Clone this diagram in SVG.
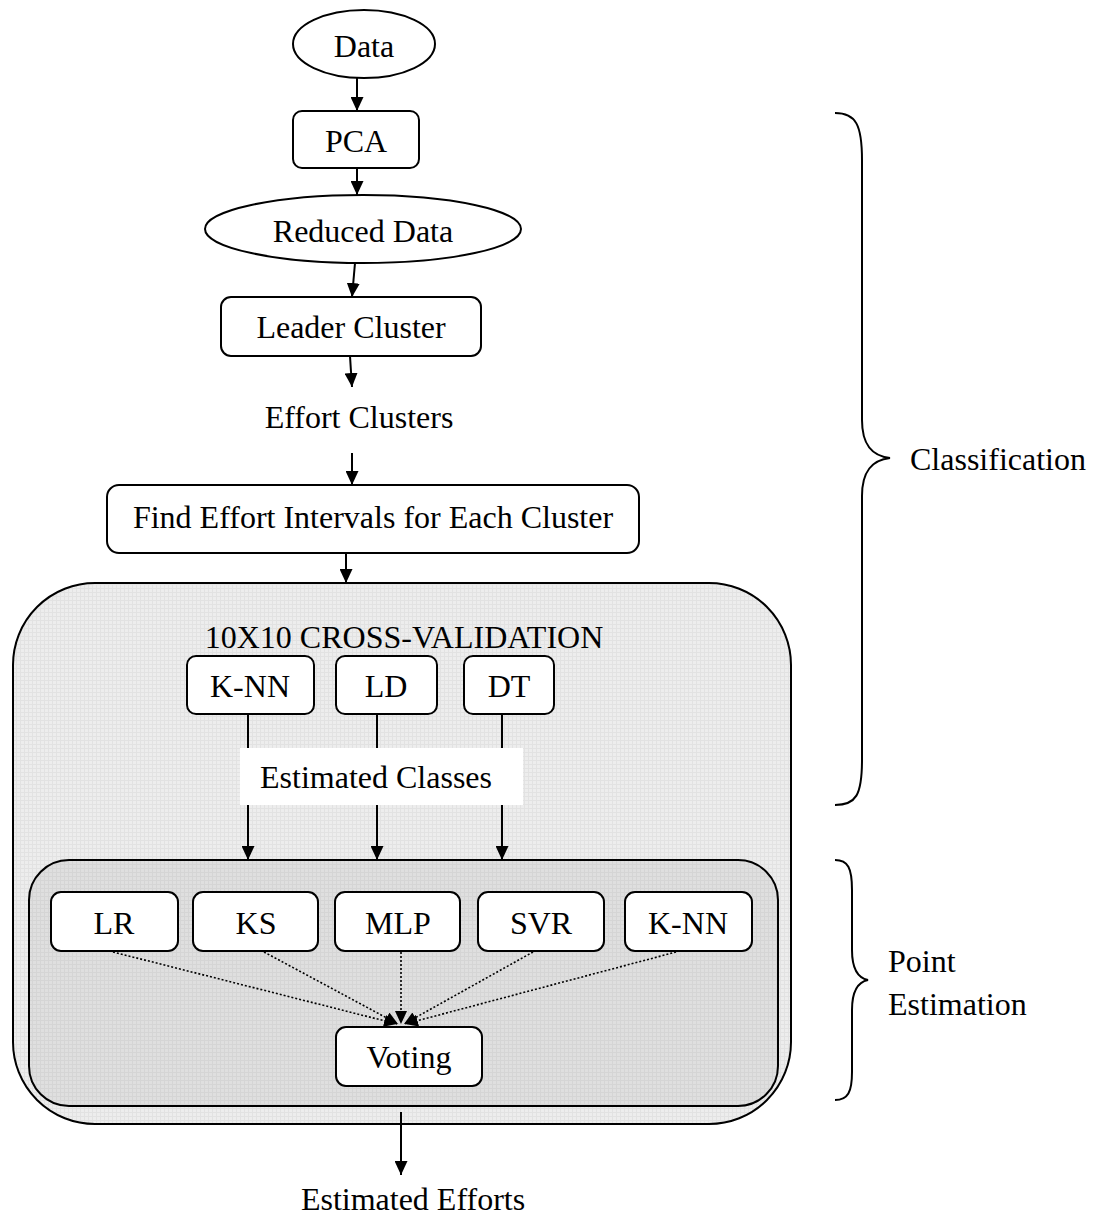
<svg xmlns="http://www.w3.org/2000/svg" width="1098" height="1218" viewBox="0 0 1098 1218">
<style>
.t{font-family:"Liberation Serif","Times New Roman",serif;font-size:32px;fill:#000;text-anchor:middle}
.tl{font-family:"Liberation Serif","Times New Roman",serif;font-size:32px;fill:#000}
.n{fill:#fff;stroke:#000;stroke-width:2}
.c{fill:none;stroke:#000;stroke-width:2}
.d{fill:none;stroke:#000;stroke-width:1.6;stroke-dasharray:2 2}
.b{fill:none;stroke:#000;stroke-width:2}
</style>
<defs>
<marker id="ah" viewBox="0 0 14 13" refX="14" refY="6.5" markerWidth="14" markerHeight="13" markerUnits="userSpaceOnUse" orient="auto"><path d="M0,0 L14,6.5 L0,13 z" fill="#000"/></marker>
<marker id="ahs" viewBox="0 0 14 13" refX="14" refY="6.5" markerWidth="13" markerHeight="12" markerUnits="userSpaceOnUse" orient="auto"><path d="M0,0 L14,6.5 L0,13 z" fill="#000"/></marker>
<pattern id="g1" width="4" height="4" patternUnits="userSpaceOnUse"><rect width="4" height="4" fill="#ededed"/><path d="M0,0.5 H4 M0.5,0 V4" stroke="#e2e2e2" stroke-width="1"/></pattern>
<pattern id="g2" width="4" height="4" patternUnits="userSpaceOnUse"><rect width="4" height="4" fill="#dfdfdf"/><path d="M0,0.5 H4 M0.5,0 V4" stroke="#d5d5d5" stroke-width="1"/></pattern>
</defs>

<g id="cv-container">
<rect x="13" y="583" width="778" height="541" rx="82" ry="82" fill="url(#g1)" stroke="#000" stroke-width="2"/>
<text class="t" x="404" y="648">10X10 CROSS-VALIDATION</text>
</g>
<g id="pe-container">
<rect x="29" y="860" width="749" height="246" rx="40" ry="40" fill="url(#g2)" stroke="#000" stroke-width="2"/>
</g>

<g id="connectors">
<line class="c" x1="357" y1="78" x2="357" y2="111" marker-end="url(#ah)"/>
<line class="c" x1="357" y1="168" x2="357" y2="195" marker-end="url(#ah)"/>
<line class="c" x1="355" y1="263" x2="352" y2="297" marker-end="url(#ah)"/>
<line class="c" x1="350" y1="356" x2="352" y2="387" marker-end="url(#ah)"/>
<line class="c" x1="352" y1="453" x2="352" y2="485" marker-end="url(#ah)"/>
<line class="c" x1="346" y1="553" x2="346" y2="583" marker-end="url(#ah)"/>
<line class="c" x1="248" y1="714" x2="248" y2="860" marker-end="url(#ah)"/>
<line class="c" x1="377" y1="714" x2="377" y2="860" marker-end="url(#ah)"/>
<line class="c" x1="502" y1="714" x2="502" y2="860" marker-end="url(#ah)"/>
<line class="d" x1="113" y1="952" x2="397" y2="1024" marker-end="url(#ahs)"/>
<line class="d" x1="264" y1="952" x2="398" y2="1024" marker-end="url(#ahs)"/>
<line class="d" x1="401" y1="952" x2="401" y2="1024" marker-end="url(#ahs)"/>
<line class="d" x1="533" y1="952" x2="404" y2="1024" marker-end="url(#ahs)"/>
<line class="d" x1="676" y1="952" x2="405" y2="1024" marker-end="url(#ahs)"/>
<line class="c" x1="401" y1="1112" x2="401" y2="1175" marker-end="url(#ah)"/>
</g>

<g id="data"><ellipse class="n" cx="364" cy="44" rx="71" ry="34"/><text class="t" x="364" y="57">Data</text></g>
<g id="pca"><rect class="n" x="293" y="111" width="126" height="57" rx="9"/><text class="t" x="356" y="152">PCA</text></g>
<g id="reduced"><ellipse class="n" cx="363" cy="229" rx="158" ry="34"/><text class="t" x="363" y="242">Reduced Data</text></g>
<g id="leader"><rect class="n" x="221" y="297" width="260" height="59" rx="10"/><text class="t" x="351" y="338">Leader Cluster</text></g>
<g id="effort-clusters"><text class="t" x="359" y="428">Effort Clusters</text></g>
<g id="find"><rect class="n" x="107" y="485" width="532" height="68" rx="12"/><text class="t" x="373" y="528">Find Effort Intervals for Each Cluster</text></g>

<g id="knn1"><rect class="n" x="187" y="656" width="127" height="58" rx="9"/><text class="t" x="250" y="697">K-NN</text></g>
<g id="ld"><rect class="n" x="336" y="656" width="101" height="58" rx="9"/><text class="t" x="386" y="697">LD</text></g>
<g id="dt"><rect class="n" x="464" y="656" width="90" height="58" rx="9"/><text class="t" x="509" y="697">DT</text></g>
<g id="est-classes"><rect x="240" y="748" width="283" height="57" fill="#fff"/><text class="t" x="376" y="788">Estimated Classes</text></g>

<g id="lr"><rect class="n" x="51" y="892" width="127" height="59" rx="10"/><text class="t" x="114" y="934">LR</text></g>
<g id="ks"><rect class="n" x="193" y="892" width="125" height="59" rx="10"/><text class="t" x="256" y="934">KS</text></g>
<g id="mlp"><rect class="n" x="335" y="892" width="125" height="59" rx="10"/><text class="t" x="398" y="934">MLP</text></g>
<g id="svr"><rect class="n" x="478" y="892" width="126" height="59" rx="10"/><text class="t" x="541" y="934">SVR</text></g>
<g id="knn2"><rect class="n" x="625" y="892" width="127" height="59" rx="10"/><text class="t" x="688" y="934">K-NN</text></g>
<g id="voting"><rect class="n" x="336" y="1027" width="146" height="59" rx="10"/><text class="t" x="409" y="1068">Voting</text></g>
<g id="est-efforts"><text class="t" x="413" y="1210">Estimated Efforts</text></g>

<g id="classification">
<path class="b" d="M835,113 C856,113 862,125 862,160 L862,420 C862,445 872,456 890,458 C872,460 862,471 862,496 L862,760 C862,795 856,805 835,805"/>
<text class="tl" x="910" y="470">Classification</text>
</g>
<g id="point-estimation">
<path class="b" d="M835,860 C848,860 852,868 852,890 L852,950 C852,970 858,978 868,980 C858,982 852,990 852,1010 L852,1072 C852,1092 848,1100 835,1100"/>
<text class="tl" x="888" y="972">Point</text>
<text class="tl" x="888" y="1015">Estimation</text>
</g>
</svg>
